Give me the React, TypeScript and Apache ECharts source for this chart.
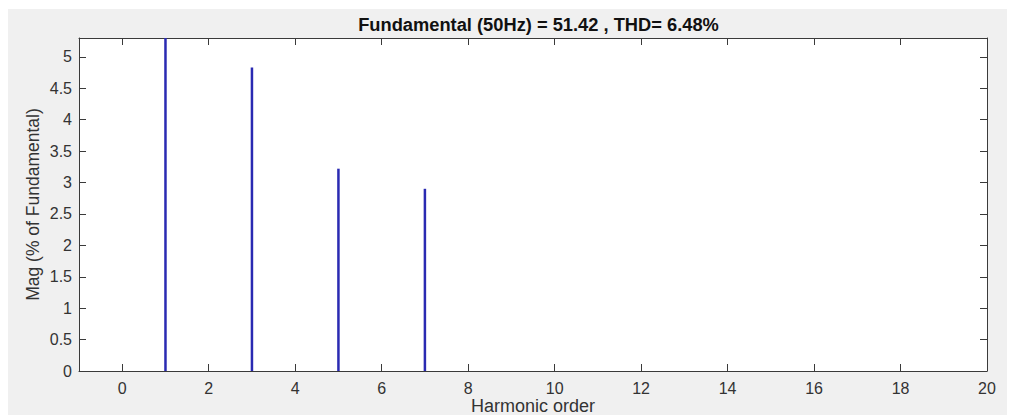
import React, { useEffect, useRef } from "react";
import * as echarts from "echarts";

const titleText = "Fundamental (50Hz) = 51.42 , THD= 6.48%";
const xAxisTitle = "Harmonic order";
const yAxisTitle = "Mag (% of Fundamental)";
const harmonics = [1, 3, 5, 7];
const magnitudes = [100, 4.83, 3.22, 2.9];
const xTicks = [0, 2, 4, 6, 8, 10, 12, 14, 16, 18, 20];
const yTicks = [0, 0.5, 1, 1.5, 2, 2.5, 3, 3.5, 4, 4.5, 5];

const FONT = "'Liberation Sans', Arial, Helvetica, sans-serif";
const AXIS_COLOR = "#3a3a3a";
const LABEL_COLOR = "#333333";

export default function App() {
  const ref = useRef<HTMLDivElement>(null);

  useEffect(() => {
    if (!ref.current) return;
    const chart = echarts.init(ref.current, null, { renderer: "svg" });
    const lineStyle = { color: AXIS_COLOR, width: 1 };
    chart.setOption({
      animation: false,
      backgroundColor: "#f0f0f0",
      textStyle: { fontFamily: FONT },
      title: {
        text: titleText,
        left: 525.5,
        top: 1.5,
        textAlign: "center",
        textStyle: { fontFamily: FONT, fontSize: 18.3, fontWeight: "bold", color: "#111" },
      },
      grid: {
        left: 71,
        top: 29,
        width: 908,
        height: 333,
        show: true,
        backgroundColor: "#ffffff",
        borderWidth: 0,
        outerBoundsMode: "none",
        containLabel: false,
      },
      xAxis: [
        {
          type: "value",
          min: -1,
          max: 20,
          position: "bottom",
          name: xAxisTitle,
          nameLocation: "middle",
          nameGap: 27,
          nameMoveOverlap: false,
          nameTextStyle: { fontFamily: FONT, fontSize: 18, lineHeight: 16, color: LABEL_COLOR },
          axisLine: { show: true, onZero: false, lineStyle },
          axisTick: { show: true, inside: true, length: 7, customValues: xTicks, lineStyle },
          axisLabel: { show: true, customValues: xTicks, margin: 9, fontSize: 16, lineHeight: 16, color: LABEL_COLOR, fontFamily: FONT },
          splitLine: { show: false },
        },
        {
          type: "value",
          min: -1,
          max: 20,
          position: "top",
          axisLine: { show: true, onZero: false, lineStyle },
          axisTick: { show: true, inside: true, length: 7, customValues: xTicks, lineStyle },
          axisLabel: { show: false },
          splitLine: { show: false },
        },
      ],
      yAxis: [
        {
          type: "value",
          min: 0,
          max: 5.3,
          position: "left",
          name: yAxisTitle,
          nameLocation: "middle",
          nameRotate: 90,
          nameGap: 37,
          nameMoveOverlap: false,
          nameTextStyle: { fontFamily: FONT, fontSize: 17.5, color: LABEL_COLOR },
          axisLine: { show: true, onZero: false, lineStyle },
          axisTick: { show: true, inside: true, length: 7, customValues: yTicks, lineStyle },
          axisLabel: { show: true, customValues: yTicks, margin: 7, fontSize: 16, color: LABEL_COLOR, fontFamily: FONT },
          splitLine: { show: false },
        },
        {
          type: "value",
          min: 0,
          max: 5.3,
          position: "right",
          axisLine: { show: true, onZero: false, lineStyle },
          axisTick: { show: true, inside: true, length: 7, customValues: yTicks, lineStyle },
          axisLabel: { show: false },
          splitLine: { show: false },
        },
      ],
      series: [
        {
          type: "bar",
          xAxisIndex: 0,
          yAxisIndex: 0,
          clip: true,
          barWidth: 2.5,
          itemStyle: { color: "#2a2ab2" },
          data: harmonics.map((h, i) => [h, magnitudes[i]]),
        },
      ],
    });
    return () => chart.dispose();
  }, []);

  return (
    <div
      ref={ref}
      style={{ position: "absolute", left: 8, top: 9, width: 999, height: 406 }}
    />
  );
}
